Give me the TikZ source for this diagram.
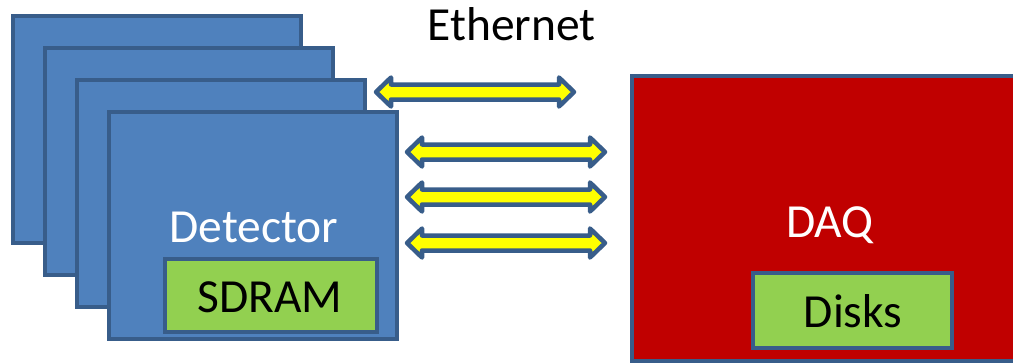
\documentclass[tikz,border=0pt]{standalone}
\usepackage{fontspec}
\setmainfont{Carlito}
\definecolor{boxblue}{HTML}{4F81BD}
\definecolor{edgeblue}{HTML}{385D8A}
\definecolor{daqred}{HTML}{C00000}
\definecolor{memgreen}{HTML}{92D050}
\definecolor{linkyellow}{HTML}{FFFF00}
\tikzset{
  box/.style={rectangle, draw=edgeblue, line width=4.5pt, inner sep=0pt, outer sep=0pt},
  detbox/.style={box, fill=boxblue, minimum width=288pt, minimum height=227pt},
  storebox/.style={box, fill=memgreen},
  label/.style={inner sep=0pt, anchor=base, font=\fontsize{47.5}{52}\selectfont},
  linkshape/.style={draw=edgeblue, fill=linkyellow, line width=4.5pt, line join=round},
  ethlink/.pic={
    \draw[linkshape] (-99,0) -- (-84,-14.5) -- (-84,-7.5) -- (84,-7.5) -- (84,-14.5)
      -- (99,0) -- (84,14.5) -- (84,7.5) -- (-84,7.5) -- (-84,14.5) -- cycle;
  }
}
\begin{document}
\begin{tikzpicture}[x=1pt, y=-1pt]
  \useasboundingbox (0,0) rectangle (1013,364);
  % stacked detector boards, back to front
  \node[detbox] (det1) at (157,129.5) {};
  \node[detbox] (det2) at (189,161.5) {};
  \node[detbox] (det3) at (221,193.5) {};
  \node[detbox] (det4) at (253,225.5) {};
  \node[label, text=white] (detlabel) at (254,242) {Detector};
  \node[storebox, minimum width=212pt, minimum height=73pt] (sdram) at (271,295.5) {};
  \node[label] (sdramlabel) at (270,312) {SDRAM};
  % data acquisition system
  \node[box, fill=daqred, minimum width=408pt, minimum height=285pt] (daq) at (836,218.5) {};
  \node[label, text=white] (daqlabel) at (830,237) {DAQ};
  \node[storebox, minimum width=199pt, minimum height=75pt] (disks) at (852.5,310.5) {};
  \node[label] (diskslabel) at (853,327) {Disks};
  % network links
  \node[label] (ethernet) at (511.5,40) {Ethernet};
  \pic (link1) at (475,92) {ethlink};
  \pic (link2) at (506,152) {ethlink};
  \pic (link3) at (506,197) {ethlink};
  \pic (link4) at (506,243) {ethlink};
\end{tikzpicture}
\end{document}
